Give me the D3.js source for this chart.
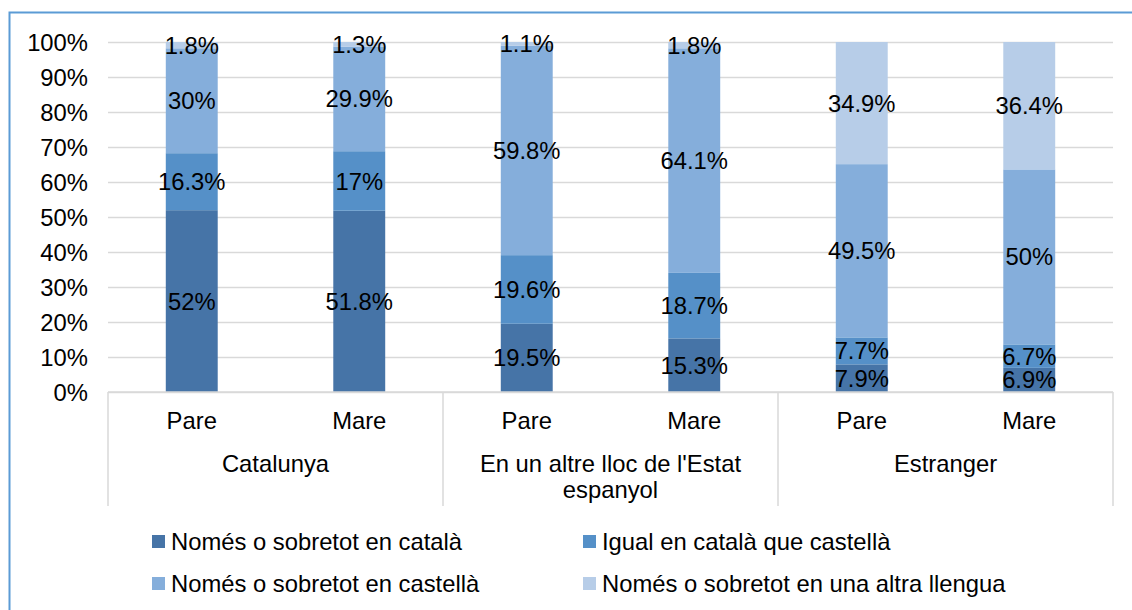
<!DOCTYPE html>
<html>
<head>
<meta charset="utf-8">
<script src="https://cdn.jsdelivr.net/npm/d3@7"></script>
<style>
    body { margin: 0; background: #fff; }
    svg { display: block; font-family: "Liberation Sans", Arial, sans-serif; }
    .grid line { stroke: #d9d9d9; stroke-width: 1.5; }
    .grid text { font-size: 23.8px; fill: #000; }
</style>
</head>
<body>
<div id="chart"></div>
<script>
// origin of the parents
const groups = ['Catalunya', "En un altre lloc de l'Estat espanyol", 'Estranger'];
const groupLines = [['Catalunya'], ["En un altre lloc de l'Estat", 'espanyol'], ['Estranger']];
const parents = ['Pare', 'Mare'];

// language used, one value per bar (group x parent)
const seriesNames = [
    'Només o sobretot en català',
    'Igual en català que castellà',
    'Només o sobretot en castellà',
    'Només o sobretot en una altra llengua'
];
const catala   = [52, 51.8, 19.5, 15.3, 7.9, 6.9];
const igual    = [16.3, 17, 19.6, 18.7, 7.7, 6.7];
const castella = [30, 29.9, 59.8, 64.1, 49.5, 50];
const altra    = [1.8, 1.3, 1.1, 1.8, 34.9, 36.4];

const colors = ['#4674a7', '#5590c8', '#85aedb', '#b7cde8'];

const width = 1132, height = 610;
const fontSize = 23.8;
const margin = { left: 108, right: 19, top: 42, bottom: 218 };

const svg = d3.select('#chart')
    .append('svg')
    .attr('width', width)
    .attr('height', height);

// outer frame (runs past the right and bottom edges)
svg.append('rect')
    .attr('x', 9.5)
    .attr('y', 12.5)
    .attr('width', 1200)
    .attr('height', 700)
    .attr('fill', 'none')
    .attr('stroke', '#5b9bd5')
    .attr('stroke-width', 2);

/*
 * One row per bar, keyed by series name.
 */
const rows = [];
groups.forEach(function(g, gi) {
    parents.forEach(function(p, pi) {
        const i = gi * parents.length + pi;
        rows.push({
            group: g,
            parent: p,
            [seriesNames[0]]: catala[i],
            [seriesNames[1]]: igual[i],
            [seriesNames[2]]: castella[i],
            [seriesNames[3]]: altra[i]
        });
    });
});

const stacked = d3.stack()
    .keys(seriesNames)
    .offset(d3.stackOffsetExpand)(rows);

const x0 = d3.scaleBand()
    .domain(groups)
    .range([margin.left, width - margin.right]);

const x1 = d3.scaleBand()
    .domain(parents)
    .range([0, x0.bandwidth()])
    .paddingInner(0.69)
    .paddingOuter(0.345);

const y = d3.scaleLinear()
    .domain([0, 1])
    .range([height - margin.bottom, margin.top]);

const y0 = y(0);

// gridlines + tick labels
const grid = svg.append('g')
    .attr('class', 'grid')
    .attr('transform', 'translate(' + margin.left + ',0)')
    .call(d3.axisLeft(y)
        .ticks(10)
        .tickFormat(d3.format('.0%'))
        .tickSize(-(width - margin.left - margin.right))
        .tickPadding(20));

grid.select('.domain').remove();
grid.selectAll('.tick text').attr('dy', '0.36em');

// bars
const layer = svg.append('g')
    .selectAll('g')
    .data(stacked)
    .join('g')
    .attr('fill', (d, i) => colors[i]);

layer.selectAll('rect')
    .data(d => d)
    .join('rect')
    .attr('x', d => x0(d.data.group) + x1(d.data.parent))
    .attr('width', x1.bandwidth())
    .attr('y', d => y(d[1]))
    .attr('height', d => y(d[0]) - y(d[1]));

// value labels in the middle of each segment
svg.append('g')
    .selectAll('g')
    .data(stacked)
    .join('g')
    .selectAll('text')
    .data(function(s) {
        return s.map(d => ({ d: d, value: d.data[s.key] }));
    })
    .join('text')
    .attr('x', o => x0(o.d.data.group) + x1(o.d.data.parent) + x1.bandwidth() / 2)
    .attr('y', o => y((o.d[0] + o.d[1]) / 2))
    .attr('dy', '0.36em')
    .attr('text-anchor', 'middle')
    .attr('font-size', fontSize)
    .attr('fill', '#000')
    .text(o => o.value + '%');

// category axis: baseline and group separators
const axis = svg.append('g');

axis.append('line')
    .attr('x1', x0.range()[0])
    .attr('x2', x0.range()[1])
    .attr('y1', y0)
    .attr('y2', y0)
    .attr('stroke', '#d9d9d9')
    .attr('stroke-width', 1.5);

axis.selectAll('.sep')
    .data(groups.map(g => x0(g)).concat([x0.range()[1]]))
    .join('line')
    .attr('class', 'sep')
    .attr('x1', d => d)
    .attr('x2', d => d)
    .attr('y1', y0)
    .attr('y2', y0 + 114)
    .attr('stroke', '#d9d9d9')
    .attr('stroke-width', 1.5);

axis.selectAll('.parent')
    .data(rows)
    .join('text')
    .attr('class', 'parent')
    .attr('x', d => x0(d.group) + x1(d.parent) + x1.bandwidth() / 2)
    .attr('y', y0 + 37)
    .attr('text-anchor', 'middle')
    .attr('font-size', fontSize)
    .text(d => d.parent);

axis.selectAll('.group')
    .data(groups)
    .join('text')
    .attr('class', 'group')
    .attr('x', d => x0(d) + x0.bandwidth() / 2)
    .attr('y', y0 + 80)
    .attr('text-anchor', 'middle')
    .attr('font-size', fontSize)
    .selectAll('tspan')
    .data((d, i) => groupLines[i])
    .join('tspan')
    .attr('x', function() { return this.parentNode.getAttribute('x'); })
    .attr('dy', (d, i) => i === 0 ? 0 : 26)
    .text(d => d);

// legend, two columns
const legendX = [152, 583];
const legendY = [541.5, 583.5];

const legend = svg.append('g')
    .selectAll('g')
    .data(seriesNames)
    .join('g')
    .attr('transform', (d, i) => 'translate(' + legendX[i % 2] + ',' + legendY[Math.floor(i / 2)] + ')');

legend.append('rect')
    .attr('x', 0)
    .attr('y', -6.5)
    .attr('width', 13)
    .attr('height', 13)
    .attr('fill', (d, i) => colors[i]);

legend.append('text')
    .attr('x', 19)
    .attr('y', 0)
    .attr('dy', '0.36em')
    .attr('font-size', fontSize)
    .text(d => d);
</script>
</body>
</html>
